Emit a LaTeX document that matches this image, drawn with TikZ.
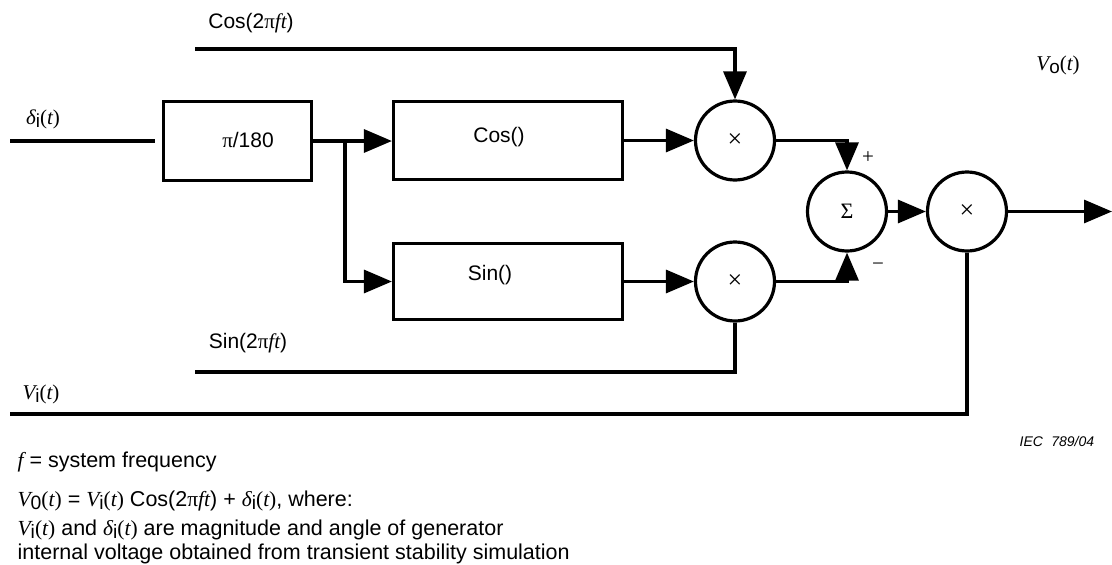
\documentclass[tikz,border=0pt]{standalone}
\usepackage{fontspec}
\setmainfont{Liberation Sans}
\newfontfamily\tm{Liberation Serif}
\usetikzlibrary{arrows.meta}
\newcommand\ti[1]{{\tm\itshape #1}}
\newcommand\sbs[1]{\smash{\raisebox{-0.35ex}{\scalebox{0.9}{#1}}}}
\newcommand\tparen{{\tm(\ti{t})}}
\begin{document}
\begin{tikzpicture}[x=1pt,y=-1pt,
  line width=3.2pt,
  font=\fontsize{21}{25}\selectfont,
  arr/.style={-{Triangle[length=28pt,width=23pt]}},
  blk/.style={draw,rectangle,inner sep=0pt},
  junc/.style={draw,circle,inner sep=0pt,minimum size=79pt},
  lbl/.style={inner sep=0pt},
  note/.style={inner sep=0pt,anchor=base west,font=\fontsize{21.5}{24}\selectfont},
]
\useasboundingbox (0,0) rectangle (1112,565);
% blocks
\node[blk,minimum width=148pt,minimum height=79pt] (pi) at (237.5,141) {};
\node[blk,minimum width=229pt,minimum height=78pt] (cosb) at (508,140.5) {};
\node[blk,minimum width=229pt,minimum height=76pt] (sinb) at (508,281.5) {};
\node[junc,font=\fontsize{26}{28}\selectfont] (m1) at (735,140.5) {{\tm×}};
\node[junc,font=\fontsize{26}{28}\selectfont] (m2) at (735,281.5) {{\tm×}};
\node[junc,font=\fontsize{22}{24}\selectfont] (sum) at (847,211.5) {{\tm Σ}};
\node[junc,font=\fontsize{26}{28}\selectfont] (m3) at (967,211.5) {{\tm×}};
% texts in blocks
\node[lbl] (tpi) at (248,140) {{\tm π}/180};
\node[lbl] (tcos) at (499,137) {Cos()};
\node[lbl] (tsin) at (490,275) {Sin()};
% free ends
\coordinate (ds) at (10,141);
\coordinate (cs) at (195,49);
\coordinate (ss) at (195,372);
\coordinate (vs) at (10,414);
\coordinate (j) at (345,141);
\coordinate (oend) at (1112,211.5);
% connectors
\draw (ds) -- ([xshift=-7pt]pi.west |- ds);
\draw (pi.east |- j) -- (j);
\draw[arr] (j) -- (j -| cosb.west);
\draw[arr] (j) |- (sinb.west);
\draw[arr] (cosb.east) -- (m1.west);
\draw[arr] (sinb.east) -- (m2.west);
\draw[arr] (cs) -| (m1.north);
\draw (ss) -| (m2.south);
\draw[arr] (m1.east) -| (sum.north);
\draw[arr] (m2.east) -| (sum.south);
\draw[arr] (sum.east) -- (m3.west);
\draw[arr] (m3.east) -- (oend);
\draw (vs) -| (m3.south);
% signal labels
\node[lbl] (lcos) at (251,23) {Cos(2{\tm π}\ti{ft})};
\node[lbl] (ldel) at (43,119) {\ti{δ}\sbs{i}\tparen};
\node[lbl] (lsin) at (248,343) {Sin(2{\tm π}\ti{ft})};
\node[lbl] (lvi) at (41,394) {\ti{V}\sbs{i}\tparen};
\node[lbl] (lvo) at (1058,65) {\ti{V}\sbs{o}\tparen};
\node[lbl,font=\fontsize{21}{23}\selectfont] (plus) at (868,158) {{\tm +}};
\node[lbl,font=\fontsize{21}{23}\selectfont] (minus) at (878,267) {{\tm −}};
\node[inner sep=0pt,anchor=base west,font=\fontsize{14}{16}\selectfont\itshape] (iec) at (1018,446) {IEC\hspace{0.6em}789/04};
% notes
\node[note] (n1) at (16,467) {\ti{f} = system frequency};
\node[note] (n2) at (16,506) {\ti{V}\sbs{0}\tparen{} = \ti{V}\sbs{i}\tparen{} Cos(2{\tm π}\ti{ft}) + \ti{δ}\sbs{i}\tparen, where:};
\node[note] (n3) at (16,535) {\ti{V}\sbs{i}\tparen{} and \ti{δ}\sbs{i}\tparen{} are magnitude and angle of generator};
\node[note] (n4) at (16,559) {internal voltage obtained from transient stability simulation};
\end{tikzpicture}
\end{document}
